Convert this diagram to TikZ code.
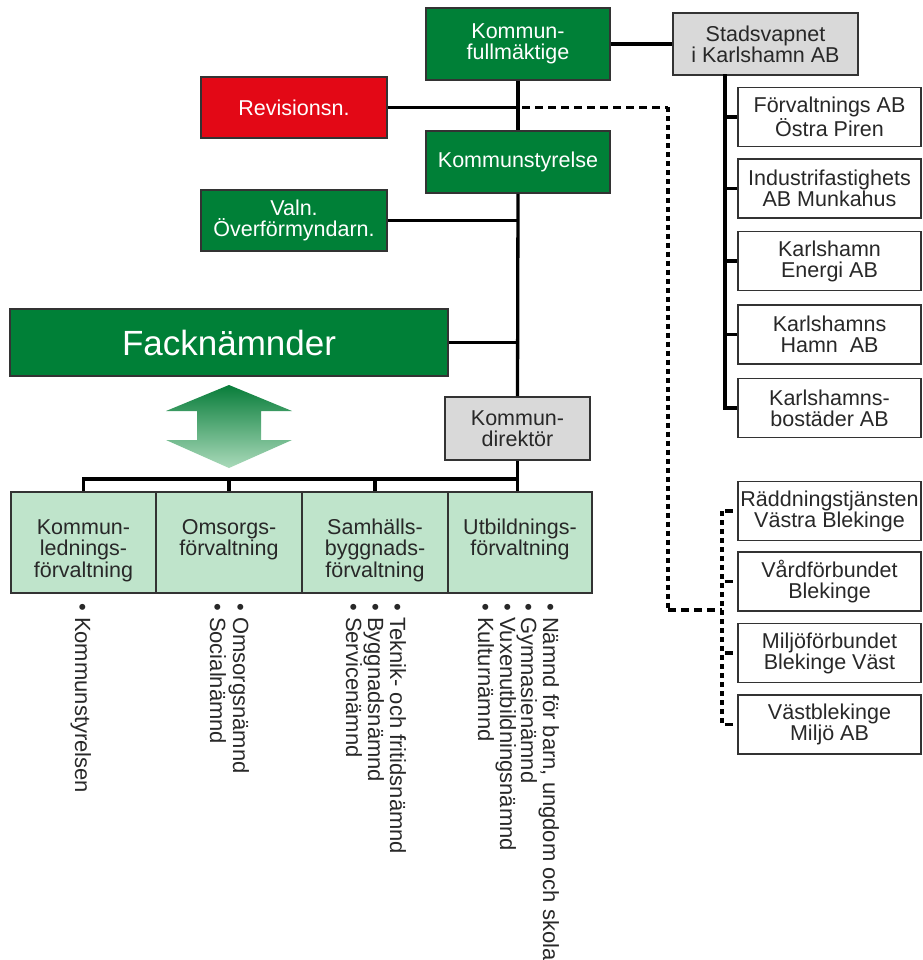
\documentclass[tikz,border=0pt]{standalone}
\usepackage{fontspec}
\setmainfont{Liberation Sans}
\definecolor{kgreen}{RGB}{0,128,55}
\definecolor{kred}{RGB}{227,8,22}
\definecolor{kgray}{RGB}{217,217,217}
\definecolor{klight}{RGB}{191,228,203}
\definecolor{ktext}{RGB}{40,40,40}
\definecolor{arrtop}{RGB}{8,125,58}
\definecolor{arrbot}{RGB}{170,218,186}
\begin{document}
\begin{tikzpicture}[x=1pt,y=-1pt,
  box/.style={draw=black!80, line width=1.6pt, inner sep=0pt, align=center,
    font=\fontsize{21.5}{21}\selectfont},
  greenbox/.style={box, fill=kgreen, text=white},
  redbox/.style={box, fill=kred, text=white},
  graybox/.style={box, fill=kgray, text=ktext},
  whitebox/.style={box, fill=white, text=ktext, minimum width=183pt, minimum height=59pt},
  lightbox/.style={box, fill=klight, minimum height=101pt},
  boxtext/.style={inner sep=0pt, text=ktext, text width=142pt, align=center,
    font=\fontsize{21.5}{21.5}\selectfont, anchor=base},
  vtext/.style={inner sep=0pt, rotate=-90, anchor=base west, text=ktext,
    font=\fontsize{22}{22}\selectfont},
  conn/.style={line width=3.3pt, black},
  dashh/.style={line width=3.3pt, black, dash pattern=on 8pt off 5pt},
  dashv/.style={line width=3.3pt, black, dash pattern=on 5pt off 4pt}]
\useasboundingbox (0,0) rectangle (922,960);

% top
\node[greenbox, minimum width=184pt, minimum height=72pt] (KF) at (518,44) {Kommun-\\fullmäktige};
\node[graybox, minimum width=185pt, minimum height=62pt] (SV) at (765.5,44) {Stadsvapnet\\i Karlshamn AB};
\node[redbox, minimum width=186pt, minimum height=61pt] (Rev) at (294,107.5) {Revisionsn.};
\node[greenbox, minimum width=184pt, minimum height=62pt] (KS) at (518,162) {Kommunstyrelse};
\node[greenbox, minimum width=186pt, minimum height=61pt] (Valn) at (294,220.5) {Valn.\\Överförmyndarn.};
\node[greenbox, minimum width=438pt, minimum height=67pt, font=\fontsize{35}{40}\selectfont] (Fack) at (229,342.5) {Facknämnder};
\node[graybox, minimum width=145pt, minimum height=63pt] (KD) at (517.5,428.5) {Kommun-\\direktör};

% companies
\node[whitebox] (FAB) at (829.5,117) {Förvaltnings AB\\Östra Piren};
\node[whitebox] (IAB) at (829.5,188.5) {Industrifastighets\\AB Munkahus};
\node[whitebox] (KEA) at (829.5,261) {Karlshamn\\Energi AB};
\node[whitebox] (KHA) at (829.5,334.5) {Karlshamns\\Hamn\ \ AB};
\node[whitebox] (KBA) at (829.5,408) {Karlshamns-\\bostäder AB};
\node[whitebox] (RVB) at (829.5,511) {Räddningstjänsten\\Västra Blekinge};
\node[whitebox] (VFB) at (829.5,581.5) {Vårdförbundet\\Blekinge};
\node[whitebox] (MBV) at (829.5,653) {Miljöförbundet\\Blekinge Väst};
\node[whitebox] (VMA) at (829.5,724.5) {Västblekinge\\Miljö AB};

% administrations
\node[lightbox, minimum width=145pt] (KL) at (83.5,542.5) {};
\node[lightbox, minimum width=146pt] (OF) at (229,542.5) {};
\node[lightbox, minimum width=146pt] (SB) at (375,542.5) {};
\node[lightbox, minimum width=144pt] (UF) at (520,542.5) {};
\node[boxtext] (KLt) at (83.5,534) {Kommun-\\lednings-\\förvaltning};
\node[boxtext] (OFt) at (229,534) {Omsorgs-\\förvaltning};
\node[boxtext] (SBt) at (375,534) {Samhälls-\\byggnads-\\förvaltning};
\node[boxtext] (UFt) at (520,534) {Utbildnings-\\förvaltning};

% double arrow
\shade[top color=arrtop, bottom color=arrbot]
  (229,385) -- (292,411) -- (261,411) -- (261,440) -- (292,440) -- (229,468)
  -- (166,440) -- (197,440) -- (197,411) -- (166,411) -- cycle;

% vertical lists
\node[vtext] (n1) at (75,603) {•\ Kommunstyrelsen};
\node[vtext] (n2) at (233,603) {•\ Omsorgsnämnd};
\node[vtext] (n3) at (210,603) {•\ Socialnämnd};
\node[vtext] (n4) at (390,603) {•\ Teknik- och fritidsnämnd};
\node[vtext] (n5) at (368,603) {•\ Byggnadsnämnd};
\node[vtext] (n6) at (346,603) {•\ Servicenämnd};
\node[vtext] (n7) at (543,603) {•\ Nämnd för barn, ungdom och skola};
\node[vtext] (n8) at (521,603) {•\ Gymnasienämnd};
\node[vtext] (n9) at (500,603) {•\ Vuxenutbildningsnämnd};
\node[vtext] (n10) at (478,603) {•\ Kulturnämnd};

% helper coordinates
\coordinate (sx) at (725,0);
\coordinate (jx) at (722,0);
\coordinate (dx) at (668,0);
\coordinate (d2) at (668,610);
\coordinate (bus) at (0,479);

% solid connectors
\draw[conn] (KF.east) -- (SV.west);
\draw[conn] (KF.south) -- (KS.north);
\draw[conn] (KS.south) -- (KD.north);
\draw[conn] (Rev.east) -- (Rev.east -| KF.south);
\draw[conn] (Valn.east) -- (Valn.east -| KS.south);
\draw[conn] (Fack.east) -- (Fack.east -| KS.south);
\draw[conn] (KD.south) -- (KD.south |- UF.north);
\draw[conn, line cap=rect] (KL.north |- bus) -- (KD.south |- bus);
\draw[conn] (KL.north |- bus) -- (KL.north);
\draw[conn] (OF.north |- bus) -- (OF.north);
\draw[conn] (SB.north |- bus) -- (SB.north);
\draw[conn, line cap=rect] (sx |- SV.south) -- (sx |- KBA.west);
\foreach \b in {FAB,IAB,KEA,KHA,KBA}
  \draw[conn] (sx |- \b.west) -- (\b.west);

% dashed connectors
\draw[dashh] ([xshift=4pt]Rev.east -| KF.south) -- (Rev.east -| dx);
\draw[dashv] (Rev.east -| dx) -- (d2);
\draw[dashh] (d2) -- (d2 -| jx);
\draw[dashv] (jx |- RVB.west) -- (jx |- VMA.west);
\foreach \b in {RVB,VFB,MBV,VMA}
  \draw[dashh] ([xshift=3pt]jx |- \b.west) -- (\b.west);
\end{tikzpicture}
\end{document}
